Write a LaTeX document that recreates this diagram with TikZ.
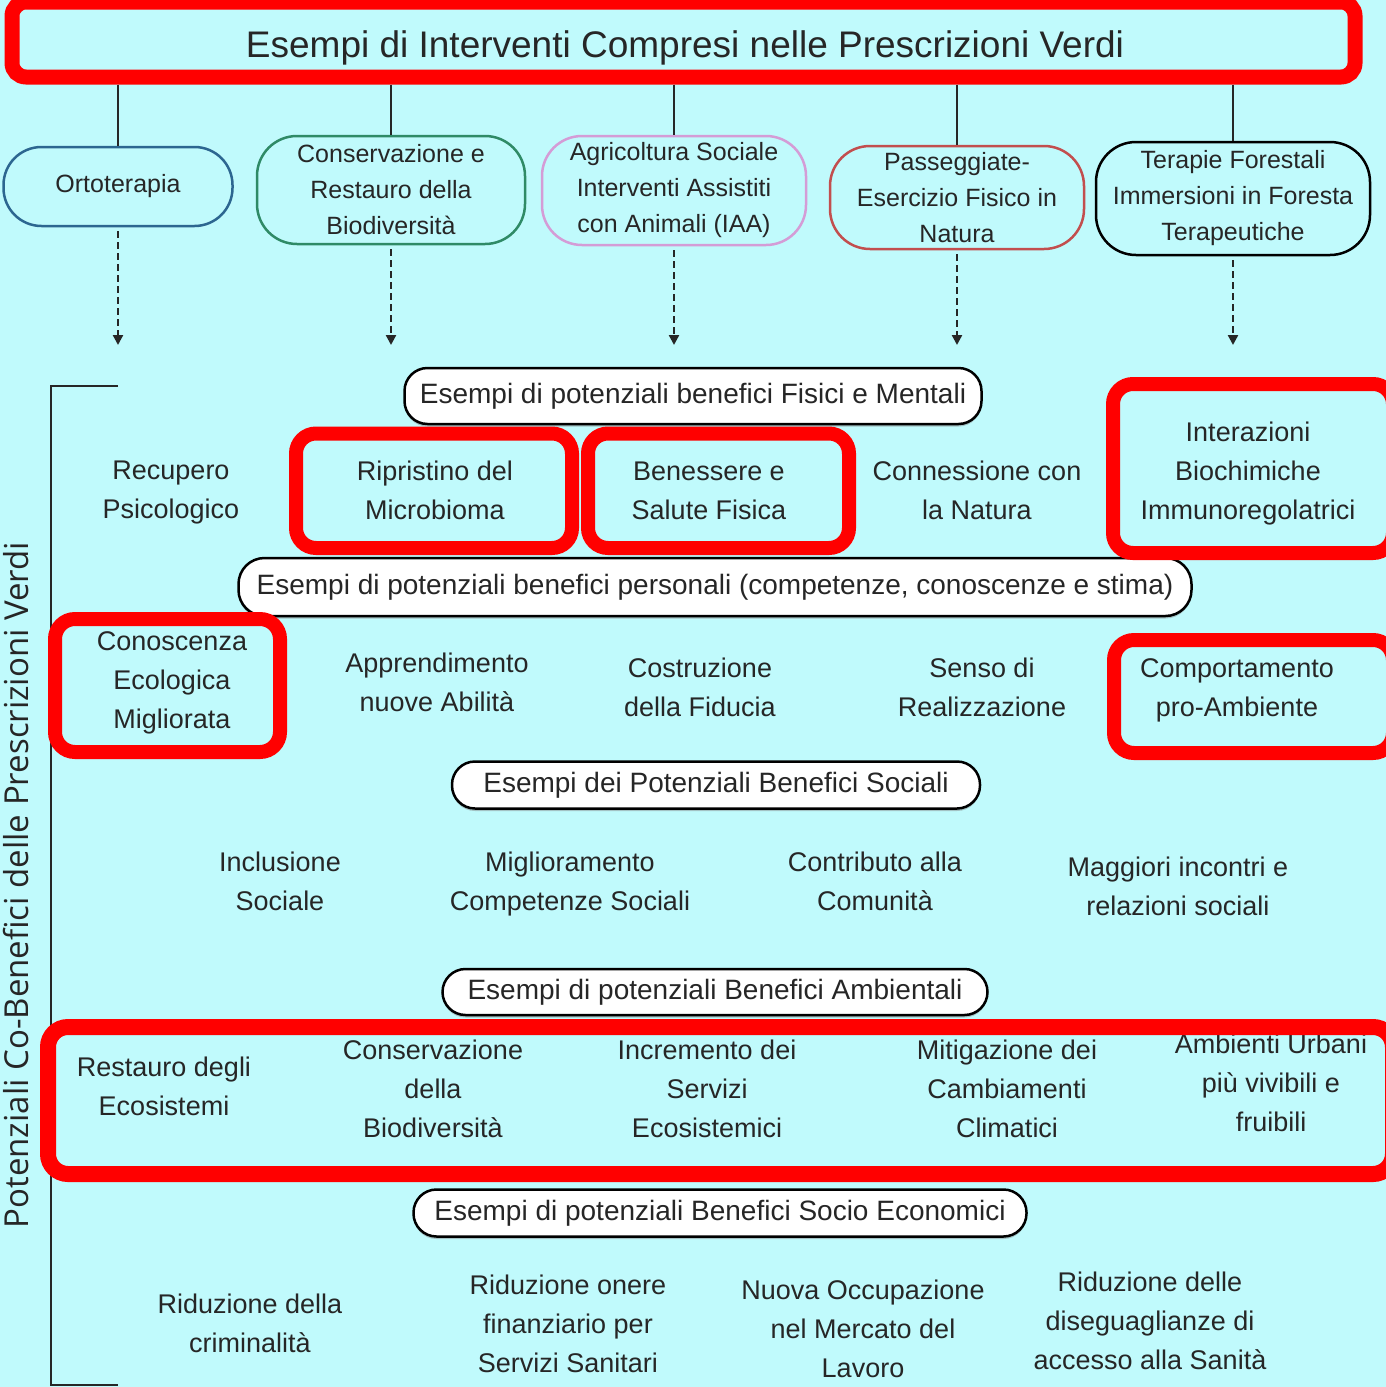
\documentclass[tikz,border=0pt]{standalone}
\usepackage{fontspec}
\setmainfont{Liberation Sans}
\newfontfamily\sidefont{Open Sans}
\usetikzlibrary{arrows.meta,shadows}
\definecolor{bgcyan}{HTML}{C0FAFC}
\definecolor{ink}{HTML}{262626}
\definecolor{markred}{HTML}{FF0000}
\definecolor{ortoblue}{HTML}{2C6690}
\definecolor{biogreen}{HTML}{2F8A66}
\definecolor{agripink}{HTML}{D49CD6}
\definecolor{walkred}{HTML}{C24E4E}

\tikzset{
  ibox/.style={draw, line width=2.5pt, rounded corners=40pt, inner sep=0pt, align=center,
    text=ink, font=\fontsize{25}{36}\selectfont},
  hpill/.style={draw=black, fill=white, line width=2.5pt, rounded corners=23pt, inner sep=0pt,
    text=ink, font=\fontsize{28}{34}\selectfont,
    drop shadow={shadow xshift=0pt, shadow yshift=-2.5pt, opacity=0.45}},
  bentext/.style={align=center, text=ink, font=\fontsize{27}{39}\selectfont, inner sep=0pt},
  redmark/.style={draw=markred, line width=14pt, rounded corners=20pt},
}

\begin{document}
\begin{tikzpicture}[x=1pt, y=-1pt, >=Latex]
  \useasboundingbox (0,0) rectangle (1386,1387);
  \clip (0,0) rectangle (1386,1387);
  \fill[bgcyan] (0,0) rectangle (1386,1387);

  \node[draw=markred, line width=15pt, rounded corners=14pt, minimum width=1343pt,
    minimum height=75pt, inner sep=0pt] (title) at (683.5,39.5) {};
  \node[text=ink, font=\fontsize{37}{44}\selectfont, inner sep=0pt] (ttext) at (685,48)
    {Esempi di Interventi Compresi nelle Prescrizioni Verdi};

  \node[ibox, draw=ortoblue, minimum width=229pt, minimum height=79pt, rounded corners=38pt]
    (iv1) at (118,186.5) {Ortoterapia};
  \node[ibox, draw=biogreen, minimum width=268pt, minimum height=108pt]
    (iv2) at (391,190) {Conservazione e\\Restauro della\\Biodiversità};
  \node[ibox, draw=agripink, minimum width=264pt, minimum height=109pt]
    (iv3) at (674,190.5) {Agricoltura Sociale\\Interventi Assistiti\\con Animali (IAA)};
  \node[ibox, draw=walkred, minimum width=254pt, minimum height=103pt]
    (iv4) at (957,197.5) {Passeggiate-\\Esercizio Fisico in\\Natura};
  \node[ibox, draw=black, minimum width=274pt, minimum height=113pt]
    (iv5) at (1233,198.5) {Terapie Forestali\\Immersioni in Foresta\\Terapeutiche};

  \foreach \i in {1,...,5} {
    \coordinate (d\i) at (iv\i.south |- 0,345);
    \draw[line width=2pt, ink] (iv\i.north |- title.south) -- (iv\i.north);
    \draw[line width=2.3pt, ink, dash pattern=on 7pt off 4pt, -{Triangle[length=10pt,width=10pt]}]
      ([yshift=-4pt]iv\i.south) -- (d\i);
  }

  \draw[line width=2.5pt, ink] (118,386) -- (51,386) -- (51,1385) -- (118,1385);
  \node[rotate=90, text=ink, inner sep=0pt, font=\sidefont\fontsize{33}{40}\selectfont]
    (side) at (16,885) {Potenziali Co-Benefici delle Prescrizioni Verdi};

  \node[hpill, minimum width=577pt, minimum height=56pt] (h1) at (693,396)
    {Esempi di potenziali benefici Fisici e Mentali};
  \node[hpill, minimum width=953pt, minimum height=58pt, rounded corners=26pt] (h2) at (715,587)
    {Esempi di potenziali benefici personali (competenze, conoscenze e stima)};
  \node[hpill, minimum width=528pt, minimum height=47pt] (h3) at (716,785)
    {Esempi dei Potenziali Benefici Sociali};
  \node[hpill, minimum width=545pt, minimum height=46pt] (h4) at (715,992)
    {Esempi di potenziali Benefici Ambientali};
  \node[hpill, minimum width=613pt, minimum height=47pt] (h5) at (720,1213)
    {Esempi di potenziali Benefici Socio Economici};

  \foreach \x/\y/\t [count=\i] in {171/493/{Recupero\\Psicologico},
      435/490/{Ripristino del\\Microbioma}, 709/491/{Benessere e\\Salute Fisica},
      977/490/{Connessione con\\la Natura}, 1248/474/{Interazioni\\Biochimiche\\Immunoregolatrici}}
    \node[bentext] (ph\i) at (\x,\y) {\t};
  \foreach \x/\y/\t [count=\i] in {172/683/{Conoscenza\\Ecologica\\Migliorata},
      437/682/{Apprendimento\\nuove Abilità}, 700/687/{Costruzione\\della Fiducia},
      982/687/{Senso di\\Realizzazione}, 1237/690/{Comportamento\\pro-Ambiente}}
    \node[bentext] (pe\i) at (\x,\y) {\t};
  \foreach \x/\y/\t [count=\i] in {280/881/{Inclusione\\Sociale},
      570/884/{Miglioramento\\Competenze Sociali}, 875/881/{Contributo alla\\Comunità},
      1178/886/{Maggiori incontri e\\relazioni sociali}}
    \node[bentext] (so\i) at (\x,\y) {\t};
  \foreach \x/\y/\t [count=\i] in {164/1086/{Restauro degli\\Ecosistemi},
      433/1089/{Conservazione\\della\\Biodiversità}, 707/1089/{Incremento dei\\Servizi\\Ecosistemici},
      1007/1089/{Mitigazione dei\\Cambiamenti\\Climatici}, 1271/1083/{Ambienti Urbani\\più vivibili e\\fruibili}}
    \node[bentext] (am\i) at (\x,\y) {\t};
  \foreach \x/\y/\t [count=\i] in {250/1323/{Riduzione della\\criminalità},
      568/1324/{Riduzione onere\\finanziario per\\Servizi Sanitari},
      863/1329/{Nuova Occupazione\\nel Mercato del\\Lavoro},
      1150/1321/{Riduzione delle\\diseguaglianze di\\accesso alla Sanità}}
    \node[bentext] (ec\i) at (\x,\y) {\t};

  \draw[redmark] (296,433.5) rectangle (572,548);
  \draw[redmark] (588,433.5) rectangle (849,548);
  \draw[redmark] (1113,384) rectangle (1393,553);
  \draw[redmark] (55,619) rectangle (280,752);
  \draw[redmark] (1114,640) rectangle (1393,753);
  \draw[redmark, line width=16pt] (48,1027) rectangle (1393,1174);
\end{tikzpicture}
\end{document}
